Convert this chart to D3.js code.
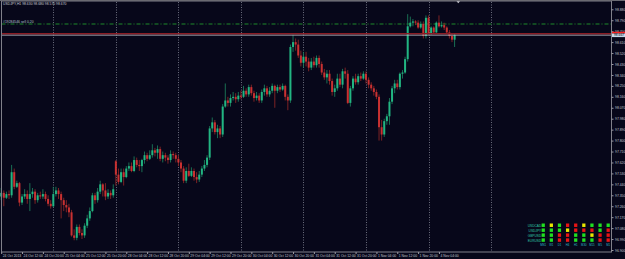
<!DOCTYPE html>
<html><head><meta charset="utf-8">
<script src="https://cdn.jsdelivr.net/npm/d3@7"></script>
<style>
html,body{margin:0;padding:0;background:#07071a;}
svg{display:block;}
text{font-family:"Liberation Sans",Arial,sans-serif;}
</style></head><body>
<svg id="c" width="625" height="259"></svg>
<script>
const opens = [97.34,97.37,97.33,97.36,97.35,97.54,97.42,97.45,97.29,97.34,
97.36,97.32,97.36,97.38,97.31,97.35,97.34,97.36,97.32,97.28,
97.26,97.36,97.39,97.36,97.31,97.27,97.25,97.21,97.02,97.00,
97.09,97.04,97.02,97.10,97.16,97.22,97.35,97.31,97.38,97.44,
97.39,97.34,97.37,97.35,97.63,97.52,97.46,97.54,97.50,97.57,
97.59,97.55,97.64,97.60,97.59,97.64,97.68,97.65,97.68,97.72,
97.70,97.73,97.65,97.68,97.66,97.64,97.69,97.68,97.65,97.62,
97.57,97.47,97.55,97.51,97.55,97.50,97.48,97.52,97.57,97.60,
97.66,97.90,97.95,97.87,97.90,97.85,98.08,98.13,98.11,98.15,
98.16,98.14,98.17,98.16,98.21,98.18,98.24,98.19,98.15,98.17,
98.13,98.20,98.23,98.18,98.21,98.25,98.21,98.24,98.22,98.25,
98.16,98.13,98.57,98.61,98.59,98.50,98.44,98.49,98.45,98.40,
98.45,98.42,98.48,98.43,98.36,98.32,98.35,98.29,98.20,98.23,
98.31,98.26,98.37,98.35,98.11,98.23,98.31,98.28,98.33,98.31,
98.35,98.30,98.26,98.23,98.20,98.16,97.91,97.85,97.96,98.00,
98.12,98.23,98.27,98.24,98.35,98.36,98.47,98.74,98.77,98.78,
98.77,98.73,98.76,98.66,98.81,98.68,98.73,98.69,98.77,98.74,
98.75,98.73,98.69,98.66,98.63];
const highs = [97.41,97.39,97.38,97.39,97.60,97.57,97.47,97.46,97.36,97.40,
97.39,97.45,97.41,97.40,97.37,97.38,97.40,97.38,97.35,97.31,
97.42,97.42,97.41,97.38,97.33,97.31,97.28,97.23,97.07,97.11,
97.11,97.07,97.12,97.19,97.25,97.37,97.37,97.41,97.47,97.45,
97.45,97.40,97.39,97.44,97.64,97.57,97.57,97.57,97.59,97.62,
97.62,97.67,97.66,97.64,97.65,97.71,97.70,97.72,97.77,97.74,
97.76,97.75,97.71,97.70,97.68,97.72,97.71,97.70,97.68,97.64,
97.59,97.58,97.61,97.58,97.57,97.54,97.55,97.59,97.64,97.68,
97.92,97.99,97.97,97.93,97.92,98.10,98.27,98.16,98.18,98.20,
98.19,98.20,98.21,98.25,98.23,98.26,98.26,98.21,98.20,98.19,
98.22,98.26,98.25,98.24,98.27,98.26,98.26,98.26,98.27,98.26,
98.18,98.59,98.67,98.64,98.63,98.54,98.53,98.53,98.48,98.48,
98.49,98.50,98.50,98.45,98.39,98.38,98.38,98.31,98.26,98.35,
98.35,98.39,98.40,98.38,98.25,98.33,98.35,98.35,98.36,98.37,
98.37,98.32,98.28,98.25,98.22,98.18,97.97,97.98,98.02,98.15,
98.25,98.30,98.30,98.36,98.38,98.49,98.84,98.82,98.80,98.79,
98.79,98.78,98.78,98.83,98.83,98.74,98.74,98.78,98.83,98.78,
98.77,98.74,98.71,98.68,98.68];
const lows = [97.31,97.26,97.32,97.32,97.33,97.40,97.41,97.26,97.27,97.32,
97.28,97.22,97.33,97.28,97.29,97.32,97.32,97.30,97.26,97.24,
97.25,97.34,97.32,97.16,97.22,97.21,97.17,97.01,96.98,96.98,
97.02,96.99,97.00,97.08,97.14,97.21,97.28,97.29,97.36,97.34,
97.31,97.32,97.32,97.33,97.43,97.44,97.45,97.43,97.49,97.55,
97.54,97.54,97.58,97.55,97.54,97.61,97.63,97.64,97.66,97.67,
97.65,97.63,97.62,97.63,97.61,97.62,97.65,97.62,97.59,97.54,
97.45,97.45,97.50,97.50,97.47,97.45,97.46,97.50,97.55,97.58,
97.64,97.87,97.85,97.82,97.82,97.83,98.07,98.08,98.08,98.13,
98.11,98.12,98.14,98.15,98.16,98.16,98.17,98.12,98.13,98.11,
98.11,98.17,98.16,98.16,98.19,98.07,98.19,98.20,98.21,98.13,
98.05,98.11,98.53,98.54,98.48,98.41,98.40,98.41,98.37,98.38,
98.40,98.40,98.40,98.34,98.30,98.27,98.26,98.17,98.16,98.21,
98.24,98.23,98.31,98.10,98.08,98.21,98.26,98.26,98.29,98.30,
98.27,98.23,98.21,98.17,98.14,97.80,97.80,97.83,97.93,97.93,
98.10,98.19,98.22,98.22,98.31,98.35,98.45,98.73,98.74,98.75,
98.72,98.72,98.64,98.64,98.67,98.67,98.68,98.68,98.73,98.73,
98.71,98.68,98.64,98.61,98.57];
const closes = [97.37,97.33,97.36,97.35,97.54,97.42,97.45,97.29,97.34,97.36,
97.32,97.36,97.38,97.31,97.35,97.34,97.36,97.32,97.28,97.26,
97.36,97.39,97.36,97.31,97.27,97.25,97.21,97.02,97.00,97.09,
97.04,97.02,97.10,97.16,97.22,97.35,97.31,97.38,97.44,97.39,
97.34,97.37,97.35,97.40,97.52,97.46,97.54,97.50,97.57,97.59,
97.55,97.64,97.60,97.59,97.64,97.68,97.65,97.68,97.72,97.70,
97.73,97.65,97.68,97.66,97.64,97.69,97.68,97.65,97.62,97.57,
97.47,97.55,97.51,97.55,97.50,97.48,97.52,97.57,97.60,97.66,
97.90,97.95,97.87,97.90,97.85,98.08,98.13,98.11,98.15,98.16,
98.14,98.17,98.16,98.21,98.18,98.24,98.19,98.15,98.17,98.13,
98.20,98.23,98.18,98.21,98.25,98.21,98.24,98.22,98.25,98.16,
98.13,98.57,98.61,98.59,98.50,98.44,98.49,98.45,98.40,98.45,
98.42,98.48,98.43,98.36,98.32,98.35,98.29,98.20,98.23,98.31,
98.26,98.37,98.35,98.11,98.23,98.31,98.28,98.33,98.31,98.35,
98.30,98.26,98.23,98.20,98.16,97.91,97.85,97.96,98.00,98.12,
98.23,98.27,98.24,98.35,98.36,98.47,98.74,98.77,98.78,98.77,
98.73,98.76,98.66,98.81,98.68,98.73,98.69,98.77,98.74,98.75,
98.73,98.69,98.66,98.63,98.67];

const timeTickIdx = [0,8,16,24,32,40,48,56,64,72,80,88,96,104,112,120,128,136,144,152,160,168];
const timeLabels = ["24 Oct 2013","24 Oct 12:00","24 Oct 20:00","25 Oct 04:00","25 Oct 12:00","25 Oct 20:00",
"28 Oct 04:00","28 Oct 12:00","28 Oct 20:00","29 Oct 04:00","29 Oct 12:00","29 Oct 20:00",
"30 Oct 04:00","30 Oct 12:00","30 Oct 20:00","31 Oct 04:00","31 Oct 12:00","31 Oct 20:00",
"1 Nov 04:00","1 Nov 12:00","1 Nov 20:00","4 Nov 04:00"];
const priceTicks = [98.880,98.790,98.700,98.610,98.520,98.430,98.340,98.250,98.160,98.070,97.980,97.890,
97.800,97.710,97.620,97.530,97.440,97.350,97.260,97.170,97.080,96.990,96.900];
const gridIdx = [20,44,68,92,116,140,164,188];
const bidPrice = 98.667;
const redLinePrice = 98.679;
const orderPrice = 98.759;
const headerText = "USDJPY,H1  98.630 98.680 98.570 98.670";
const orderText = "#19284546 sell 0.20";

const pairs = ["USDCAD","USDJPY","GBPUSD","EURUSD"];
const periods = ["MN1","W1","D1","H4","H1","M30","M15","M5","M1"];
const signals = [
 ["G","Y","G","R","R","Y","G","G","G"],
 ["G","G","G","Y","R","R","R","G","R"],
 ["G","G","R","R","G","G","Y","R","R"],
 ["G","G","R","R","G","G","G","R","R"]
];

const svg = d3.select("#c");
const L = 1.5, T = 1, R = 611.5, B = 252;
const x = d3.scaleLinear().domain([0, 174]).range([1.2, 454.6]);
const y = d3.scaleLinear().domain([96.900, 98.880]).range([250, 9.3]);

svg.append("rect").attr("width",625).attr("height",259).attr("fill","#07071a");

// vertical grid
svg.append("g").selectAll("line").data(gridIdx).join("line")
  .attr("x1", d => Math.round(x(d)) + 0.5).attr("x2", d => Math.round(x(d)) + 0.5)
  .attr("y1", T + 1).attr("y2", B)
  .attr("stroke", "#6a6c7c").attr("stroke-width", 1).attr("stroke-dasharray", "1,1.5");

// order line (green dash-dot)
svg.append("line").attr("x1", L).attr("x2", R).attr("y1", y(orderPrice)).attr("y2", y(orderPrice))
  .attr("stroke", "#1f8a2a").attr("stroke-width", 1).attr("stroke-dasharray", "4,2,1,2");
svg.append("text").attr("x", 3).attr("y", y(orderPrice) - 1.4).text(orderText)
  .attr("font-size", 3.4).attr("fill", "#b8c0d0");

// candles
const n = closes.length;
const idx = d3.range(n);
const g = svg.append("g");
g.selectAll("line.w").data(idx).join("line").attr("class","w")
  .attr("x1", i => x(i)).attr("x2", i => x(i))
  .attr("y1", i => y(highs[i])).attr("y2", i => y(lows[i]))
  .attr("stroke", i => closes[i] >= opens[i] ? "#1c7a5a" : "#8a2626")
  .attr("stroke-width", 0.9);
g.selectAll("rect.b").data(idx).join("rect").attr("class","b")
  .attr("x", i => x(i) - 1).attr("width", 2)
  .attr("y", i => y(Math.max(opens[i], closes[i])))
  .attr("height", i => Math.max(0.8, Math.abs(y(opens[i]) - y(closes[i]))))
  .attr("fill", i => closes[i] >= opens[i] ? "#22b582" : "#c93131");

// red line and bid line
svg.append("line").attr("x1", L).attr("x2", R).attr("y1", y(redLinePrice)).attr("y2", y(redLinePrice))
  .attr("stroke", "#8a1c24").attr("stroke-width", 1.6);
svg.append("line").attr("x1", L).attr("x2", R).attr("y1", y(bidPrice)).attr("y2", y(bidPrice))
  .attr("stroke", "#b8bcc8").attr("stroke-width", 0.8);

// frame
svg.append("rect").attr("x", L).attr("y", T).attr("width", R - L).attr("height", B - T)
  .attr("fill", "none").attr("stroke", "#80808a").attr("stroke-width", 1);
svg.append("line").attr("x1", 0).attr("x2", 625).attr("y1", 0.5).attr("y2", 0.5).attr("stroke", "#6a6a72");

// header
svg.append("text").attr("x", 3).attr("y", 5.2).text(headerText)
  .attr("font-size", 3.4).attr("fill", "#c8ccd4");
// shift marker
svg.append("path").attr("d", "M456.5,1.2 L460,1.2 L458.25,3.2 Z").attr("fill", "#c8c8d0");

// price axis
const ya = svg.append("g").attr("transform", `translate(${R},0)`)
  .call(d3.axisRight(y).tickValues(priceTicks).tickSize(2).tickPadding(1.5).tickFormat(d3.format(".3f")));
ya.select(".domain").remove();
ya.selectAll(".tick line").attr("stroke", "#9a9aa4");
ya.selectAll(".tick text").attr("font-size", 3.4).attr("fill", "#c0c4cc")
  .attr("font-family", "Liberation Sans, Arial, sans-serif");

// current price tags
svg.append("rect").attr("x", R + 0.5).attr("y", y(redLinePrice) - 2).attr("width", 13).attr("height", 1.8).attr("fill", "#ff2020");
svg.append("rect").attr("x", R + 0.5).attr("y", y(bidPrice) - 1.7).attr("width", 13).attr("height", 3.6).attr("fill", "#c8d8ea");
svg.append("text").attr("x", R + 2.5).attr("y", y(bidPrice) + 1.2).text(d3.format(".3f")(bidPrice))
  .attr("font-size", 3.3).attr("fill", "#000");

// time axis
const xa = svg.append("g").attr("transform", `translate(0,${B})`)
  .call(d3.axisBottom(x).tickValues(timeTickIdx).tickSize(2).tickPadding(0.8).tickFormat((d, k) => timeLabels[k]));
xa.select(".domain").remove();
xa.selectAll(".tick line").attr("stroke", "#9a9aa4");
xa.selectAll(".tick text").attr("font-size", 3.4).attr("fill", "#c0c4cc").attr("text-anchor", "start")
  .attr("x", 1).attr("font-family", "Liberation Sans, Arial, sans-serif");

// signal indicator
const col = {G: "#20e020", Y: "#e8e800", R: "#e81414"};
const sx = d3.scaleBand().domain(periods).range([541.6, 609.8]).paddingInner(0.6);
const sy = d3.scaleBand().domain(pairs).range([223.5, 241.8]).paddingInner(0.3);
const ind = svg.append("g");
pairs.forEach((p, r) => {
  ind.append("text").attr("x", 541.2).attr("y", sy(p) + sy.bandwidth() - 0.3).attr("text-anchor", "end")
    .text(p).attr("font-size", 3.2).attr("fill", "#2fc7a8");
  periods.forEach((q, c) => {
    ind.append("rect").attr("x", sx(q)).attr("y", sy(p)).attr("width", sx.bandwidth()).attr("height", sy.bandwidth())
      .attr("fill", col[signals[r][c]]);
  });
});
periods.forEach(q => {
  ind.append("text").attr("x", sx(q) + sx.bandwidth() / 2).attr("y", 245.6).attr("text-anchor", "middle")
    .text(q).attr("font-size", 2.8).attr("fill", "#2fb8c8");
});
</script>
</body></html>
